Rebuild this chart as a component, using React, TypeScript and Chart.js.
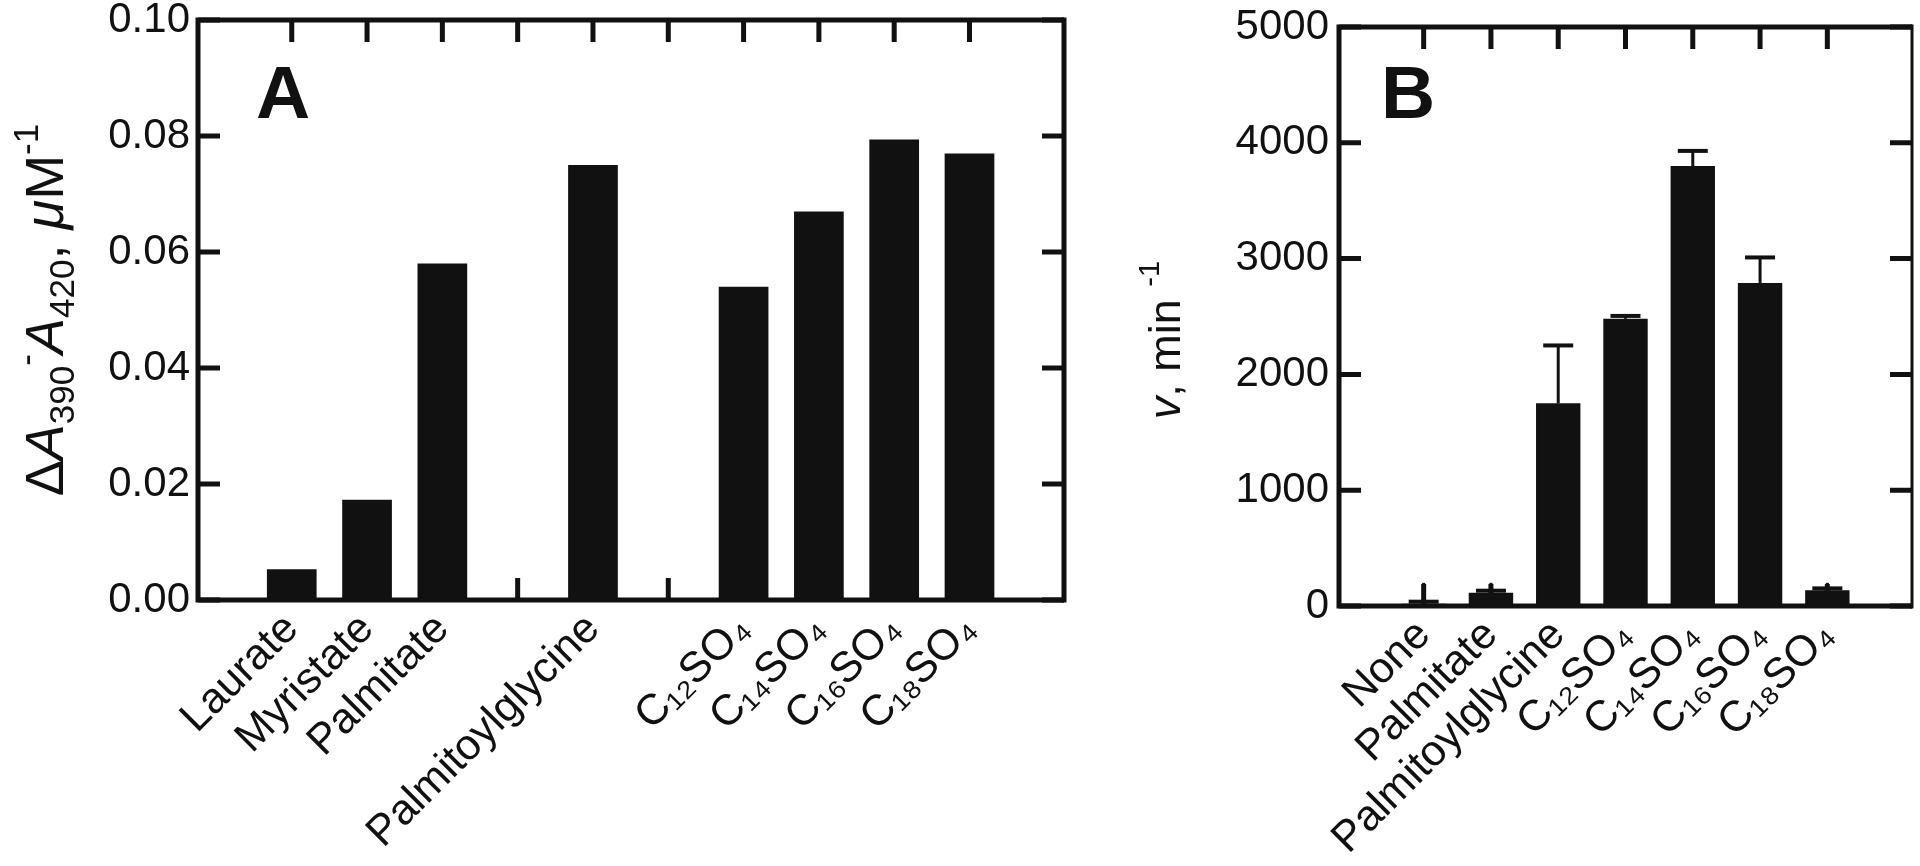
import React, { useEffect, useRef } from "react";
import { Chart, registerables } from "chart.js";
Chart.register(...registerables);

const FAMILY = "'Liberation Sans', Arial, Helvetica, sans-serif";
const INK = "#111111";

// Panel A
const labelsA = ["Laurate", "Myristate", "Palmitate", "", "Palmitoylglycine", "", "C₁₂SO₄", "C₁₄SO₄", "C₁₆SO₄", "C₁₈SO₄"];
const valuesA: (number | null)[] = [0.0053, 0.0173, 0.058, null, 0.075, null, 0.054, 0.067, 0.0794, 0.077];
const yTicksA = [0, 0.02, 0.04, 0.06, 0.08, 0.1];

// Panel B
const labelsB = ["None", "Palmitate", "Palmitoylglycine", "C₁₂SO₄", "C₁₄SO₄", "C₁₆SO₄", "C₁₈SO₄"];
const valuesB = [20, 115, 1750, 2480, 3800, 2790, 135];
const errorsB = [180, 85, 500, 25, 130, 220, 65];
// style: whether the error bar shows its cap on top (small bars show it at the base)
const capOnTopB = [false, false, true, true, true, true, false];
const yTicksB = [0, 1000, 2000, 3000, 4000, 5000];

type Seg = { text: string; italic?: boolean; sub?: boolean; sup?: boolean };

const titleA: Seg[] = [
  { text: "Δ" },
  { text: "A", italic: true },
  { text: "390", sub: true },
  { text: "-", sup: true },
  { text: "A", italic: true },
  { text: "420", sub: true },
  { text: ", " },
  { text: "μ", italic: true },
  { text: "M" },
  { text: "-1", sup: true },
];
const titleB: Seg[] = [
  { text: "v", italic: true },
  { text: ", min " },
  { text: "-1", sup: true },
];

function drawRich(ctx: CanvasRenderingContext2D, segs: Seg[], size: number) {
  let total = 0;
  const items = segs.map((s) => {
    const fs = s.sub || s.sup ? size * 0.65 : size;
    const font = `${s.italic ? "italic " : ""}${fs}px ${FAMILY}`;
    ctx.font = font;
    const w = ctx.measureText(s.text).width;
    total += w;
    return { ...s, font, w, dy: s.sub ? size * 0.2 : s.sup ? -size * 0.47 : 0 };
  });
  let x = -total / 2;
  ctx.textAlign = "left";
  ctx.textBaseline = "alphabetic";
  items.forEach((it) => {
    ctx.font = it.font;
    ctx.fillText(it.text, x, it.dy);
    x += it.w;
  });
}

function makePlugin(cfg: {
  n: number;
  yTicks: number[];
  letter: string;
  letterX: number;
  letterY: number;
  title: Seg[];
  titleSize: number;
  titleX: number;
  titleY: number;
  errors?: number[];
  values?: number[];
  capOnTop?: boolean[];
  rightWidth: number;
}) {
  return {
    id: "decor",
    beforeDatasetsDraw(chart: any) {
      const ctx = chart.ctx as CanvasRenderingContext2D;
      const { left, right, top, bottom } = chart.chartArea;
      const xs = chart.scales.x;
      const ys = chart.scales.y;
      const len = 22;
      ctx.save();
      ctx.strokeStyle = INK;
      ctx.lineWidth = 5;
      ctx.beginPath();
      for (let i = 0; i < cfg.n; i++) {
        const px = xs.getPixelForValue(i);
        ctx.moveTo(px, top);
        ctx.lineTo(px, top + len);
        ctx.moveTo(px, bottom);
        ctx.lineTo(px, bottom - len);
      }
      cfg.yTicks.forEach((v) => {
        const py = ys.getPixelForValue(v);
        ctx.moveTo(left, py);
        ctx.lineTo(left + len, py);
        ctx.moveTo(right, py);
        ctx.lineTo(right - len, py);
      });
      ctx.stroke();
      ctx.restore();
    },
    afterDatasetsDraw(chart: any) {
      const ctx = chart.ctx as CanvasRenderingContext2D;
      const { left, right, top, bottom } = chart.chartArea;
      const xs = chart.scales.x;
      const ys = chart.scales.y;
      ctx.save();
      ctx.strokeStyle = INK;
      ctx.fillStyle = INK;
      // error bars
      if (cfg.errors && cfg.values) {
        cfg.values.forEach((v, i) => {
          const e = cfg.errors![i];
          const px = xs.getPixelForValue(i);
          const py0 = ys.getPixelForValue(v);
          const py1 = ys.getPixelForValue(v + e);
          ctx.lineWidth = 3;
          ctx.beginPath();
          ctx.moveTo(px, py0);
          ctx.lineTo(px, py1);
          ctx.stroke();
          ctx.lineWidth = 4;
          ctx.beginPath();
          const capY = cfg.capOnTop && !cfg.capOnTop[i] ? py0 - 2 : py1;
          ctx.moveTo(px - 15, capY);
          ctx.lineTo(px + 15, capY);
          ctx.stroke();
        });
      }
      // frame
      ctx.lineWidth = 5;
      ctx.beginPath();
      ctx.moveTo(right, top);
      ctx.lineTo(left, top);
      ctx.lineTo(left, bottom);
      ctx.lineTo(right, bottom);
      ctx.stroke();
      ctx.lineWidth = cfg.rightWidth;
      ctx.beginPath();
      ctx.moveTo(right, top - 2.5);
      ctx.lineTo(right, bottom + 2.5);
      ctx.stroke();
      // panel letter
      ctx.font = `bold 75px ${FAMILY}`;
      ctx.textAlign = "left";
      ctx.textBaseline = "alphabetic";
      ctx.fillText(cfg.letter, cfg.letterX, cfg.letterY);
      // y title
      ctx.translate(cfg.titleX, cfg.titleY);
      ctx.rotate(-Math.PI / 2);
      drawRich(ctx, cfg.title, cfg.titleSize);
      ctx.restore();
    },
  };
}

function useBarChart(ref: React.RefObject<HTMLCanvasElement>, build: () => any) {
  useEffect(() => {
    if (!ref.current) return;
    const chart = new Chart(ref.current, build());
    return () => chart.destroy();
  }, []);
}

const A_LEFT = 0;
const A_W = 1120;
const B_LEFT = 1120;
const B_W = 800;
const H = 866;

const noPad = (s: any) => {
  s.paddingTop = 0;
  s.paddingBottom = 0;
  s.paddingLeft = 0;
  s.paddingRight = 0;
};

function xAxis(labels: string[], min: number, max: number, height: number) {
  return {
    type: "linear",
    min,
    max,
    grid: { display: false, drawTicks: false },
    border: { display: false },
    afterBuildTicks: (s: any) => {
      s.ticks = labels.map((_, i) => ({ value: i }));
    },
    afterFit: (s: any) => {
      s.height = height;
      noPad(s);
    },
    ticks: {
      autoSkip: false,
      minRotation: 45,
      maxRotation: 45,
      padding: 4,
      color: INK,
      font: { family: FAMILY, size: 43 },
      callback: (v: any) => labels[v] ?? "",
    },
  };
}

function yAxis(ticksList: number[], max: number, width: number, pad: number, fmt: (v: number) => string) {
  return {
    min: 0,
    max,
    grid: { display: false, drawTicks: false },
    border: { display: false },
    afterBuildTicks: (s: any) => {
      s.ticks = ticksList.map((v) => ({ value: v }));
    },
    afterFit: (s: any) => {
      s.width = width;
      noPad(s);
    },
    ticks: {
      padding: pad,
      color: INK,
      font: { family: FAMILY, size: 42 },
      callback: (v: any) => fmt(Number(v)),
    },
  };
}

export default function App() {
  const refA = useRef<HTMLCanvasElement>(null);
  const refB = useRef<HTMLCanvasElement>(null);

  useBarChart(refA, () => {
    const data = valuesA
      .map((v, i) => (v == null ? null : { x: i, y: v }))
      .filter((d) => d !== null);
    return {
      type: "bar",
      data: {
        datasets: [
          { data, backgroundColor: INK, borderWidth: 0, barPercentage: 0.66, categoryPercentage: 1 },
        ],
      },
      options: {
        animation: false,
        responsive: false,
        devicePixelRatio: 1,
        layout: { padding: { left: 0, top: 20, right: A_W - 1064, bottom: 0 } },
        plugins: { legend: { display: false }, tooltip: { enabled: false } },
        scales: {
          x: xAxis(labelsA, -0.67, 9.68, H - 600),
          y: yAxis(yTicksA, 0.1, 198, 8, (v) => v.toFixed(2)),
        },
      },
      plugins: [
        makePlugin({
          n: labelsA.length,
          yTicks: yTicksA,
          letter: "A",
          letterX: 256,
          letterY: 118,
          title: titleA,
          titleSize: 54,
          titleX: 63,
          titleY: 310,
          rightWidth: 5,
        }),
      ],
    };
  });

  useBarChart(refB, () => {
    const data = valuesB.map((v, i) => ({ x: i, y: v }));
    return {
      type: "bar",
      data: {
        datasets: [
          { data, backgroundColor: INK, borderWidth: 0, barPercentage: 0.66, categoryPercentage: 1 },
        ],
      },
      options: {
        animation: false,
        responsive: false,
        devicePixelRatio: 1,
        layout: { padding: { left: 0, top: 27, right: B_W - (1912 - B_LEFT), bottom: 0 } },
        plugins: { legend: { display: false }, tooltip: { enabled: false } },
        scales: {
          x: xAxis(labelsB, -0.65, 6.65, H - 606),
          y: yAxis(yTicksB, 5000, 1339 - B_LEFT, 10, (v) => String(v)),
        },
      },
      plugins: [
        makePlugin({
          n: labelsB.length,
          yTicks: yTicksB,
          letter: "B",
          letterX: 1381 - B_LEFT,
          letterY: 118,
          title: titleB,
          titleSize: 45,
          titleX: 1180 - B_LEFT,
          titleY: 340,
          errors: errorsB,
          values: valuesB,
          capOnTop: capOnTopB,
          rightWidth: 3,
        }),
      ],
    };
  });

  return (
    <div
      style={{
        position: "fixed",
        left: 0,
        top: 0,
        width: 1920,
        height: H,
        background: "#ffffff",
        overflow: "hidden",
      }}
    >
      <canvas
        ref={refA}
        width={A_W}
        height={H}
        style={{ position: "absolute", left: A_LEFT, top: 0, width: A_W, height: H }}
      />
      <canvas
        ref={refB}
        width={B_W}
        height={H}
        style={{ position: "absolute", left: B_LEFT, top: 0, width: B_W, height: H }}
      />
    </div>
  );
}
